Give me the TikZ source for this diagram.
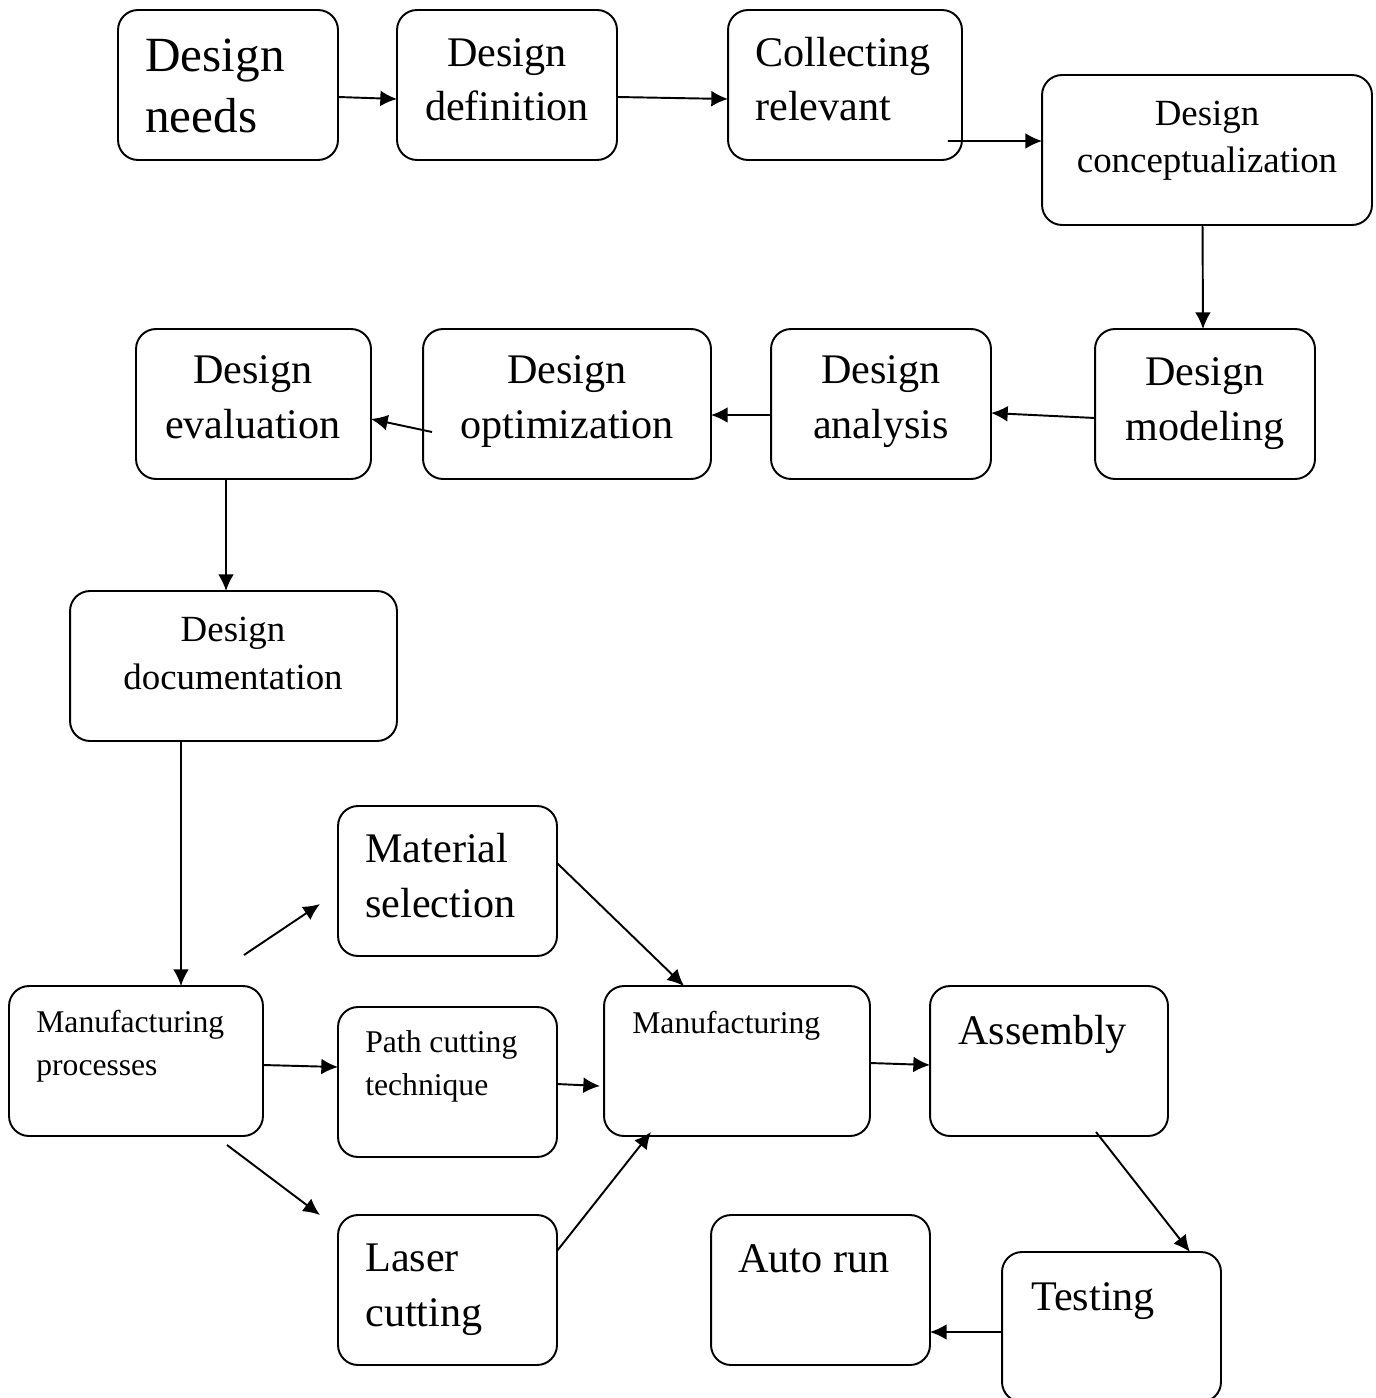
\documentclass[tikz,border=0pt]{standalone}
\usepackage{fontspec}
\setmainfont{Liberation Serif}
\usetikzlibrary{arrows.meta}

\tikzset{
  box/.style={draw, rounded corners=0.4cm, line width=1.1pt, outer sep=0pt, inner sep=0pt},
  arr/.style={-{Latex[length=9.5pt,width=9pt]}, line width=1.1pt},
  lbl/.style={inner sep=0pt, anchor=base west, align=left},
  clbl/.style={inner sep=0pt, anchor=base, align=center},
  big/.style={font=\fontsize{28}{35}\selectfont},
  med/.style={font=\fontsize{24}{31}\selectfont},
  sml/.style={font=\fontsize{21}{27}\selectfont},
  tiny/.style={font=\fontsize{18}{24.4}\selectfont}
}

\begin{document}
\begin{tikzpicture}[x=0.02cm, y=-0.02cm]
  \useasboundingbox (0,0) rectangle (1375,1398);

  % Boxes: design stage
  \node[box, minimum width=4.4cm, minimum height=3cm] (needs) at (228,85) {};
  \node[box, minimum width=4.4cm, minimum height=3cm] (defn) at (507,85) {};
  \node[box, minimum width=4.68cm, minimum height=3cm] (collect) at (845,85) {};
  \node[box, minimum width=6.6cm, minimum height=3cm] (concept) at (1207,150) {};
  \node[box, minimum width=4.4cm, minimum height=3cm] (model) at (1205,404) {};
  \node[box, minimum width=4.4cm, minimum height=3cm] (anal) at (881,404) {};
  \node[box, minimum width=5.76cm, minimum height=3cm] (optim) at (567,404) {};
  \node[box, minimum width=4.7cm, minimum height=3cm] (eval) at (253.5,404) {};
  \node[box, minimum width=6.54cm, minimum height=3cm] (docu) at (233.5,666) {};

  % Boxes: manufacturing stage
  \node[box, minimum width=5.08cm, minimum height=3cm] (proc) at (136,1061) {};
  \node[box, minimum width=4.38cm, minimum height=3cm] (mater) at (447.5,881) {};
  \node[box, minimum width=4.38cm, minimum height=3cm] (path) at (447.5,1082) {};
  \node[box, minimum width=4.38cm, minimum height=3cm] (laser) at (447.5,1290) {};
  \node[box, minimum width=5.32cm, minimum height=3cm] (manuf) at (737,1061) {};
  \node[box, minimum width=4.76cm, minimum height=3cm] (assem) at (1049,1061) {};
  \node[box, minimum width=4.38cm, minimum height=3cm] (test) at (1111.5,1327) {};
  \node[box, minimum width=4.38cm, minimum height=3cm] (auto) at (820.5,1290) {};

  % Texts (base = baseline of the last line)
  \node[lbl, big] (needs-t) at (145,133) {Design\\needs};
  \node[clbl, med] (defn-t) at (507,121) {Design\\definition};
  \node[lbl, med] (collect-t) at (755,121) {Collecting\\relevant};
  \node[clbl, sml] (concept-t) at (1207,173) {Design\\conceptualization};
  \node[clbl, med] (model-t) at (1205,440) {Design\\modeling};
  \node[clbl, med] (anal-t) at (881,438) {Design\\analysis};
  \node[clbl, med] (optim-t) at (567,438) {Design\\optimization};
  \node[clbl, med] (eval-t) at (253,438) {Design\\evaluation};
  \node[clbl, sml] (docu-t) at (233,689) {Design\\documentation};
  \node[lbl, tiny] (proc-t) at (36,1075) {Manufacturing\\processes};
  \node[lbl, med] (mater-t) at (365,917) {Material\\selection};
  \node[lbl, tiny] (path-t) at (365,1095) {Path cutting\\technique};
  \node[lbl, med] (laser-t) at (365,1326) {Laser\\cutting};
  \node[lbl, tiny] (manuf-t) at (632,1033) {Manufacturing};
  \node[lbl, med] (assem-t) at (958,1044) {Assembly};
  \node[lbl, med] (test-t) at (1031,1310) {Testing};
  \node[lbl, med] (auto-t) at (738,1272) {Auto run};

  % Free arrow ends
  \coordinate (pm-from) at (244,955);
  \coordinate (pm-to) at (320,904);
  \coordinate (pl-from) at (227,1145);
  \coordinate (pl-to) at (320,1215);

  % Arrows: design stage
  \draw[arr] ([yshift=-0.24cm]needs.east) -- ([yshift=-0.28cm]defn.west);
  \draw[arr] ([yshift=-0.24cm]defn.east) -- ([yshift=-0.28cm]collect.west);
  \draw[arr] ([xshift=-0.28cm, yshift=0.38cm]collect.south east) -- ([yshift=0.18cm]concept.west);
  \draw[arr] ([xshift=-0.09cm]concept.south) -- ([xshift=-0.04cm]model.north);
  \draw[arr] ([yshift=-0.28cm]model.west) -- ([yshift=-0.18cm]anal.east);
  \draw[arr] ([yshift=-0.22cm]anal.west) -- ([yshift=-0.22cm]optim.east);
  \draw[arr] ([xshift=0.18cm, yshift=-0.56cm]optim.west) -- ([yshift=-0.3cm]eval.east);
  \draw[arr] ([xshift=-0.55cm]eval.south) -- ([xshift=-0.15cm]docu.north);
  \draw[arr] ([xshift=-1.05cm]docu.south) -- ([xshift=0.9cm]proc.north);

  % Arrows: manufacturing stage
  \draw[arr] (pm-from) -- (pm-to);
  \draw[arr] ([yshift=-0.08cm]proc.east) -- ([yshift=0.3cm]path.west);
  \draw[arr] (pl-from) -- (pl-to);
  \draw[arr] ([yshift=0.36cm]mater.east) -- ([xshift=-1.06cm]manuf.north);
  \draw[arr] ([yshift=-0.04cm]path.east) -- ([xshift=-0.08cm, yshift=-0.5cm]manuf.west);
  \draw[arr] ([yshift=0.78cm]laser.east) -- ([xshift=-1.72cm, yshift=0.08cm]manuf.south);
  \draw[arr] ([yshift=-0.04cm]manuf.east) -- ([yshift=-0.08cm]assem.west);
  \draw[arr] ([xshift=0.94cm, yshift=0.08cm]assem.south) -- ([xshift=1.57cm]test.north);
  \draw[arr] ([yshift=-0.1cm]test.west) -- ([yshift=-0.84cm]auto.east);
\end{tikzpicture}
\end{document}
